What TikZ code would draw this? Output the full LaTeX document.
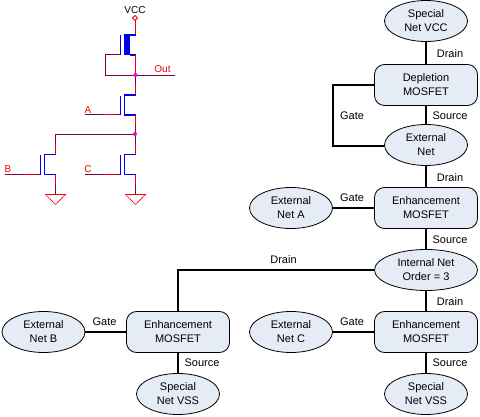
\documentclass[tikz,border=0pt]{standalone}
\usepackage{fontspec}
\setmainfont{Liberation Sans}
\definecolor{nodefill}{HTML}{E6ECF6}
\definecolor{wirep}{HTML}{800040}
\definecolor{wirer}{HTML}{F00000}
\definecolor{mosb}{HTML}{0000F0}
\definecolor{dotm}{HTML}{F000D0}
\tikzset{
  x=1pt,y=-1pt,
  every node/.style={font=\fontsize{11}{14}\selectfont,align=center,inner sep=0pt,text=black},
  netnode/.style={ellipse,draw=black,fill=nodefill,line width=0.8pt,minimum width=83pt,minimum height=41pt},
  wideoval/.style={netnode,minimum width=103pt},
  mosbox/.style={rectangle,rounded corners=10pt,draw=black,fill=nodefill,line width=0.8pt,minimum width=103pt,minimum height=41pt},
  link/.style={line width=2pt,black},
  lab/.style={},
  pw/.style={wirep,line width=1pt},
  rw/.style={wirer,line width=1pt},
  bw/.style={mosb,line width=1.25pt},
  gnd/.style={wirer,line width=0.8pt,dash pattern=on 1pt off 0.6pt},
  sch/.style={font=\fontsize{10}{12}\selectfont,text=wirer},
}
\usetikzlibrary{shapes.geometric}
\begin{document}
\begin{tikzpicture}
\useasboundingbox (0,0) rectangle (480,417);
% flow chart
\node[netnode] (vcc) at (426,21) {Special\\Net VCC};
\node[mosbox] (dep) at (426,85) {Depletion\\MOSFET};
\node[netnode] (ext) at (426,145) {External\\Net};
\node[mosbox] (enhA) at (426,208) {Enhancement\\MOSFET};
\node[netnode] (extA) at (291,208) {External\\Net A};
\node[wideoval] (int) at (426,270) {Internal Net\\Order = 3};
\node[mosbox] (enhC) at (426,332) {Enhancement\\MOSFET};
\node[netnode] (extC) at (291,332) {External\\Net C};
\node[netnode] (vssR) at (426,394) {Special\\Net VSS};
\node[mosbox] (enhB) at (178,332) {Enhancement\\MOSFET};
\node[netnode] (extB) at (43.5,332) {External\\Net B};
\node[netnode] (vssL) at (178,394) {Special\\Net VSS};
\draw[link] (vcc) -- (dep);
\draw[link] (dep) -- (ext);
\draw[link] (ext) -- (enhA);
\draw[link] (enhA) -- (int);
\draw[link] (int) -- (enhC);
\draw[link] (enhC) -- (vssR);
\draw[link] (extA) -- (enhA);
\draw[link] (extC) -- (enhC);
\draw[link] (extB) -- (enhB);
\draw[link] (enhB) -- (vssL);
\draw[link] (dep.west) -- (333,85) -- (333,146) -- (ext.west |- 0,146);
\draw[link] (int.west) -- (178,270) -- (enhB.north);
\node[lab] (l1) at (450,54) {Drain};
\node[lab] (l2) at (450,116) {Source};
\node[lab] (l3) at (352,116) {Gate};
\node[lab] (l4) at (450,178) {Drain};
\node[lab] (l5) at (352,198) {Gate};
\node[lab] (l6) at (450,240) {Source};
\node[lab] (l7) at (283.5,260) {Drain};
\node[lab] (l8) at (450,302) {Drain};
\node[lab] (l9) at (352,322) {Gate};
\node[lab] (l10) at (450,363) {Source};
\node[lab] (l11) at (104.5,322) {Gate};
\node[lab] (l12) at (202,363) {Source};
% schematic
\node[sch,text=black] (tvcc) at (135,10) {VCC};
\node[sch] (tout) at (162.5,69.5) {Out};
\node[sch] (ta) at (88,110) {A};
\node[sch] (tb) at (8,169) {B};
\node[sch] (tc) at (88,169) {C};
\draw[wirer,line width=0.8pt,fill=white] (135,15.5) -- (137.5,18) -- (135,20.5) -- (132.5,18) -- cycle;
\draw[rw] (135.5,20.5) -- (135.5,35);
\draw[bw] (135.5,35) -- (124,35);
\fill[mosb] (124,35) rectangle (130,55.5);
\draw[bw] (130,55) -- (135.5,55);
\draw[bw] (120.5,35.5) -- (120.5,55.5);
\draw[pw] (120,55) -- (105.5,55) -- (105.5,75.5) -- (175,75.5);
\draw[rw] (135.5,55) -- (135.5,75);
\draw[pw] (135.5,75) -- (135.5,85);
\draw[rw] (135.5,85) -- (135.5,95);
\draw[bw] (135.5,95) -- (124.5,95) -- (124.5,115) -- (135.5,115);
\draw[bw] (120.5,96) -- (120.5,115.5);
\draw[pw] (85,114.5) -- (105,114.5);
\draw[rw] (105,114.5) -- (115,114.5);
\draw[pw] (115,114.5) -- (120,114.5);
\draw[rw] (135.5,115) -- (135.5,125);
\draw[pw] (135.5,125) -- (135.5,134);
\draw[pw] (135.5,134.5) -- (55.5,134.5) -- (55.5,145);
\draw[rw] (55.5,145) -- (55.5,154);
\draw[bw] (55.5,154.5) -- (44.5,154.5) -- (44.5,174.5) -- (55.5,174.5);
\draw[bw] (40.5,155) -- (40.5,175);
\draw[pw] (5,174.5) -- (25,174.5);
\draw[rw] (25,174.5) -- (35,174.5);
\draw[pw] (35,174.5) -- (40,174.5);
\draw[rw] (55.5,175) -- (55.5,185);
\draw[pw] (55.5,185) -- (55.5,194);
\draw[rw] (135.5,134) -- (135.5,154);
\draw[pw] (135.5,134) -- (135.5,145);
\draw[bw] (135.5,154.5) -- (124.5,154.5) -- (124.5,174.5) -- (135.5,174.5);
\draw[bw] (120.5,155) -- (120.5,175);
\draw[pw] (85,174.5) -- (105,174.5);
\draw[rw] (105,174.5) -- (115,174.5);
\draw[pw] (115,174.5) -- (120,174.5);
\draw[rw] (135.5,175) -- (135.5,185);
\draw[pw] (135.5,185) -- (135.5,194);
\draw[rw] (45.5,194.5) -- (65.5,194.5);
\draw[gnd] (45.5,194.5) -- (55.5,204.5) -- (65.5,194.5);
\draw[rw] (125.5,194.5) -- (145.5,194.5);
\draw[gnd] (125.5,194.5) -- (135.5,204.5) -- (145.5,194.5);
\fill[dotm] (135.5,75) circle (2pt);
\fill[dotm] (135,134) circle (2pt);
\end{tikzpicture}
\end{document}
